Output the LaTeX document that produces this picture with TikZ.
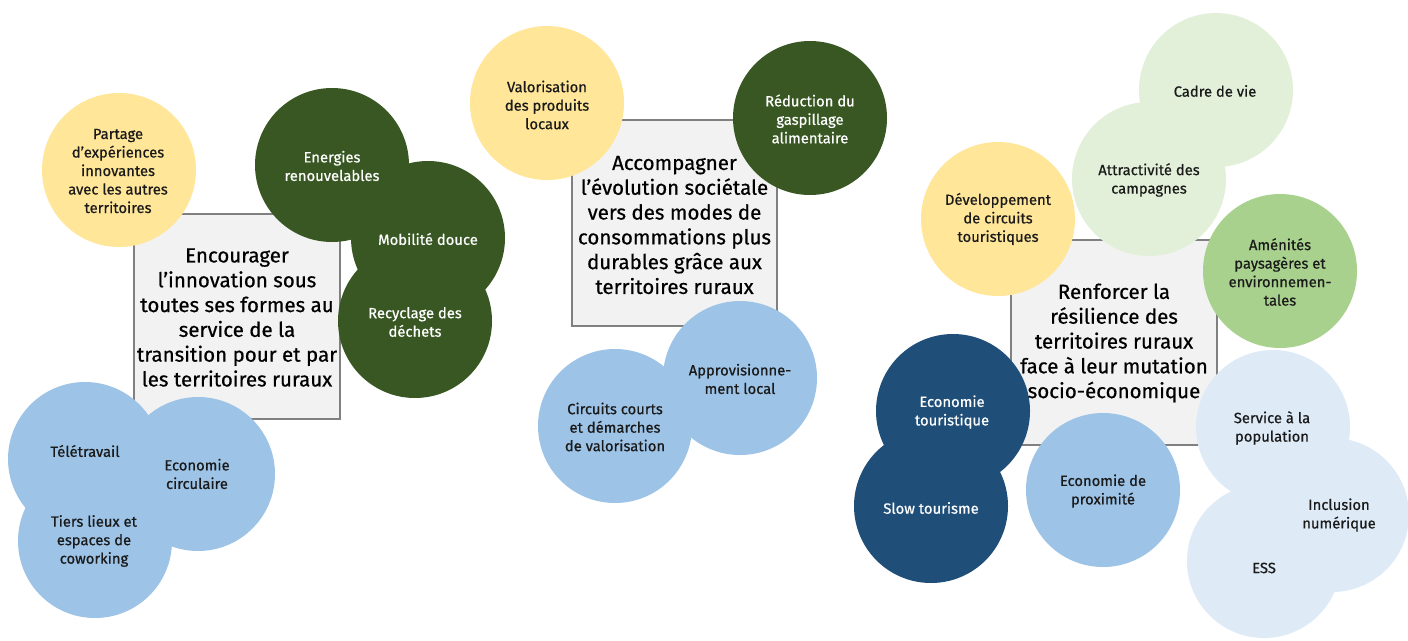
\documentclass[tikz,border=0pt]{standalone}
\usepackage{fontspec}
\setmainfont{Fira Sans}[FakeBold=0.6]
\definecolor{cyel}{HTML}{FFE699}
\definecolor{cdgreen}{HTML}{385723}
\definecolor{clblue}{HTML}{9DC3E6}
\definecolor{cnavy}{HTML}{1F4E79}
\definecolor{cpgreen}{HTML}{E2F0D9}
\definecolor{cmgreen}{HTML}{A9D18E}
\definecolor{cpblue}{HTML}{DEEBF7}
\definecolor{cboxfill}{HTML}{F2F2F2}
\definecolor{cboxline}{HTML}{808080}
\definecolor{ctxt}{HTML}{1A1A1A}
\tikzset{
  circ/.style={circle, draw=none, inner sep=0pt, minimum size=154pt},
  lbl/.style={align=center, inner sep=0pt, font=\fontsize{14.8}{18.5}\selectfont, text=ctxt},
  lblw/.style={lbl, text=white},
  goalbox/.style={draw=cboxline, line width=1.5pt, fill=cboxfill, inner sep=0pt},
  goaltxt/.style={align=center, inner sep=0pt, font=\fontsize{20.5}{24.8}\selectfont, text=black}
}
\begin{document}
\begin{tikzpicture}[x=1pt, y=-1pt]
\useasboundingbox (0,0) rectangle (1408,640);
\fill[white] (0,0) rectangle (1408,640);
\begin{scope}
\clip (0,0) rectangle (1408,640);
% goal boxes
\node[goalbox, minimum width=206pt, minimum height=205pt] (box1) at (237,316.5) {};
\node[goalbox, minimum width=205pt, minimum height=206pt] (box2) at (674.5,223) {};
\node[goalbox, minimum width=206pt, minimum height=205pt] (box3) at (1114,342.5) {};
% group 1
\node[circ, fill=cyel] (partage) at (119,170) {};
\node[circ, fill=cdgreen] (energies) at (332,165) {};
\node[circ, fill=cdgreen] (mobilite) at (428,238) {};
\node[circ, fill=cdgreen] (recyclage) at (415,321) {};
\node[circ, fill=clblue] (teletravail) at (85,459) {};
\node[circ, fill=clblue] (ecocirc) at (198,474) {};
\node[circ, fill=clblue] (tiers) at (95,541) {};
% group 2
\node[circ, fill=cyel] (valorisation) at (547,103) {};
\node[circ, fill=cdgreen] (reduction) at (810,118) {};
\node[circ, fill=clblue] (approv) at (740,378) {};
\node[circ, fill=clblue] (circuits) at (615,426) {};
% group 3
\node[circ, fill=cpgreen] (cadre) at (1216,90) {};
\node[circ, fill=cpgreen] (attract) at (1149,179) {};
\node[circ, fill=cyel] (developpement) at (998,219) {};
\node[circ, fill=cmgreen] (amenites) at (1280,271) {};
\node[circ, fill=cnavy] (ecotour) at (953,411) {};
\node[circ, fill=cnavy] (slow) at (931,506) {};
\node[circ, fill=clblue] (ecoprox) at (1103,490) {};
\node[circ, fill=cpblue] (service) at (1273,427) {};
\node[circ, fill=cpblue] (inclusion) at (1332,515) {};
\node[circ, fill=cpblue] (ess) at (1264,561) {};
\end{scope}
% labels
\node[lbl] (partage-t) at (118,171) {Partage\\d’expériences\\innovantes\\avec les autres\\territoires};
\node[lblw] (energies-t) at (332,166) {Energies\\renouvelables};
\node[lblw] (mobilite-t) at (428,239) {Mobilité douce};
\node[lblw] (recyclage-t) at (415,322) {Recyclage des\\déchets};
\node[lbl] (teletravail-t) at (85,451) {Télétravail};
\node[lbl] (ecocirc-t) at (197,474) {Economie\\circulaire};
\node[lbl] (tiers-t) at (94,541) {Tiers lieux et\\espaces de\\coworking};
\node[lbl] (valorisation-t) at (547,105) {Valorisation\\des produits\\locaux};
\node[lblw] (reduction-t) at (810,119) {Réduction du\\gaspillage\\alimentaire};
\node[lbl] (approv-t) at (740,379) {Approvisionne-\\ment local};
\node[lbl] (circuits-t) at (615,427) {Circuits courts\\et démarches\\de valorisation};
\node[lbl] (cadre-t) at (1215,91) {Cadre de vie};
\node[lbl] (attract-t) at (1149,180) {Attractivité des\\campagnes};
\node[lbl] (developpement-t) at (998,219) {Développement\\de circuits\\touristiques};
\node[lbl] (amenites-t) at (1280,272) {Aménités\\paysagères et\\environnemen-\\tales};
\node[lblw] (ecotour-t) at (952,412) {Economie\\touristique};
\node[lblw] (slow-t) at (931,508) {Slow tourisme};
\node[lbl] (ecoprox-t) at (1103,491) {Economie de\\proximité};
\node[lbl] (service-t) at (1272,428) {Service à la\\population};
\node[lbl] (inclusion-t) at (1339,515) {Inclusion\\numérique};
\node[lbl] (ess-t) at (1264,568) {ESS};
% goal texts
\node[goaltxt] (box1-t) at (237,317.5) {Encourager\\l’innovation sous\\toutes ses formes au\\service de la\\transition pour et par\\les territoires ruraux};
\node[goaltxt] (box2-t) at (674.5,225) {Accompagner\\l’évolution sociétale\\vers des modes de\\consommations plus\\durables grâce aux\\territoires ruraux};
\node[goaltxt] (box3-t) at (1114,343) {Renforcer la\\résilience des\\territoires ruraux\\face à leur mutation\\socio-économique};
\end{tikzpicture}
\end{document}
